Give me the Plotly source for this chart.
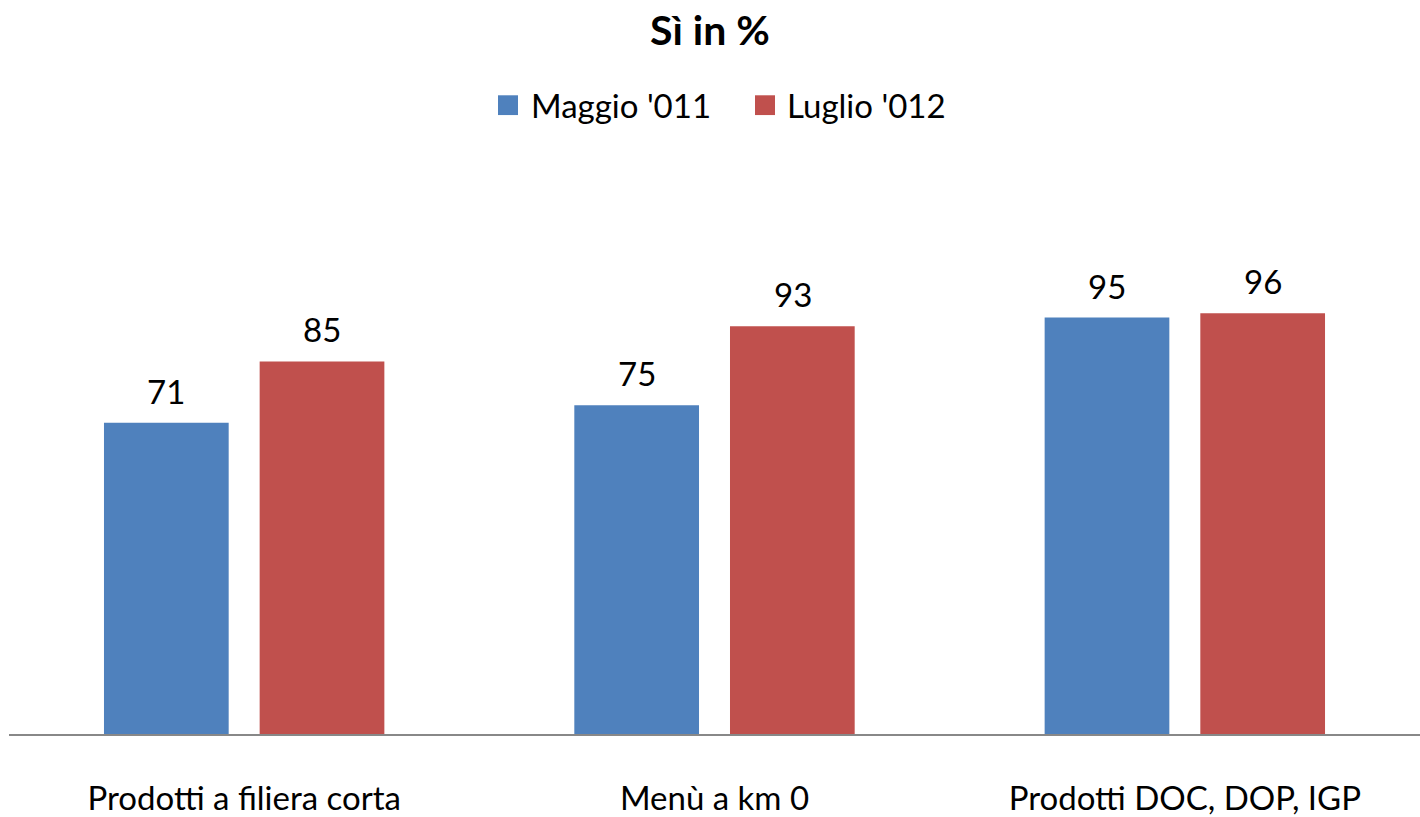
import plotly.graph_objects as go

categories = ["Prodotti a filiera corta", "Menù a km 0", "Prodotti DOC, DOP, IGP"]
maggio_2011 = [71, 75, 95]
luglio_2012 = [85, 93, 96]
series_names = ["Maggio '011", "Luglio '012"]
colors = ["#4F81BD", "#C0504D"]

FONT = "Lato"
W, H = 1420, 817

fig = go.Figure()
for name, vals, col in zip(series_names, [maggio_2011, luglio_2012], colors):
    fig.add_trace(go.Bar(
        x=categories, y=vals, name=name, showlegend=False,
        marker=dict(color=col, line=dict(width=0)),
    ))

# value labels above each bar
for i, vals in enumerate([maggio_2011, luglio_2012]):
    shift = -78 if i == 0 else 78
    for c, v in zip(categories, vals):
        fig.add_annotation(
            x=c, y=v, xref="x", yref="y", text=str(v), showarrow=False,
            xshift=shift, yshift=32, font=dict(family=FONT, size=33, color="#000000"),
        )

# legend row: coloured square + series name
legend_items = [(498, 529), (755, 785)]
for (sx, tx), name, col in zip(legend_items, series_names, colors):
    fig.add_shape(type="rect", xref="paper", yref="paper",
                  x0=(sx - 9) / (W - 9), x1=(sx + 11) / (W - 9),
                  y0=(740 - 114) / (740 - 208), y1=(740 - 94) / (740 - 208),
                  fillcolor=col, line=dict(width=0))
    fig.add_annotation(x=(tx - 9) / (W - 9), y=(740 - 104) / (740 - 208),
                       xref="paper", yref="paper", xanchor="left", yanchor="middle",
                       text=name, showarrow=False,
                       font=dict(family=FONT, size=33, color="#000000"))

fig.update_layout(
    width=W, height=H,
    margin=dict(l=9, r=0, t=208, b=77),
    paper_bgcolor="white", plot_bgcolor="white",
    barmode="group", bargap=0.338, bargroupgap=0.199,
    font=dict(family=FONT, color="#000000"),
    title=dict(text="<b>Sì in %</b>", x=0.5, xanchor="center", y=0.963, yanchor="middle",
               font=dict(family=FONT, size=41, color="#000000")),
    showlegend=False,
    xaxis=dict(showline=True, linecolor="#888888", linewidth=1.5, ticks="",
               tickfont=dict(family=FONT, size=33), ticklabelstandoff=35,
               showgrid=False),
    yaxis=dict(range=[0, 120], visible=False, showgrid=False),
)

fig.write_html("out.html")
